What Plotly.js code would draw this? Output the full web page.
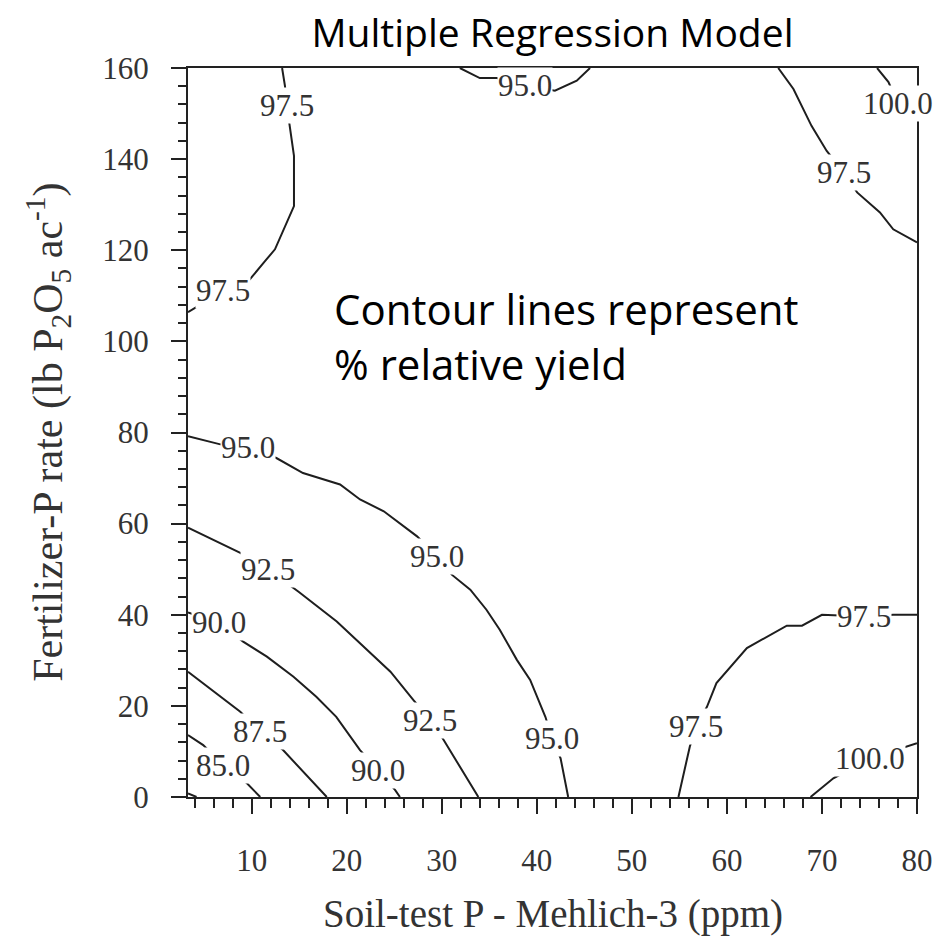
<!DOCTYPE html>
<html>
<head>
<meta charset="utf-8">
<script src="https://cdn.plot.ly/plotly-3.0.1.min.js"></script>
<style>html,body{margin:0;padding:0;background:#fff;}#chart{width:943px;height:941px;}</style>
</head>
<body>
<div id="chart"></div>
<script>
// Contour lines (x = soil-test P ppm, y = fertilizer-P rate)
const c825_x = [3.3, 4.2];
const c825_y = [0.8, 0];

const c850_x = [3.3, 4.9, 7.0, 9.5, 10.9];
const c850_y = [13.6, 11.4, 7.0, 3.0, 0];

const c875_x = [3.3, 8.8, 10.9, 13.3, 17.9];
const c875_y = [27.5, 18.7, 14.4, 10.3, 0];

const c900_x = [3.3, 6.6, 9.1, 11.6, 14.4, 16.8, 18.9, 21.4, 23.3, 25.1, 25.6];
const c900_y = [40.5, 38.2, 34.1, 30.8, 26.4, 22.0, 17.6, 10.3, 5.9, 1.5, 0];

const c925_x = [3.3, 8.8, 11.75, 14.9, 18.95, 22.1, 24.6, 27.0, 28.8, 30.2, 33.85];
const c925_y = [59.1, 53.6, 49.9, 45.1, 38.5, 32.3, 27.5, 21.3, 16.9, 12.5, 0];

const c950_x = [3.3, 6.7, 9.6, 12.6, 15.4, 17.5, 19.3, 21.4, 23.9, 27.4, 29.5, 31.05, 33.0, 34.7, 36.1, 37.9, 39.3, 40.9, 41.6, 42.5, 43.3];
const c950_y = [79.2, 77.4, 76.6, 74.4, 71.1, 69.7, 68.6, 65.3, 62.7, 57.2, 52.8, 48.8, 45.5, 41.1, 36.7, 30.1, 25.7, 17.6, 12.9, 8.5, 0];

const c950top_x = [31.9, 34.0, 35.8, 38.8, 41.9, 44.2, 45.6];
const c950top_y = [160, 157.8, 157.8, 156.2, 155.0, 157.2, 160];

const c975tl_x = [13.2, 13.5, 13.7, 14.0, 14.45, 14.45, 13.5, 12.45, 11.4, 9.8, 7.0, 3.3];
const c975tl_y = [160, 156.1, 151.7, 147.3, 140.7, 129.7, 125.3, 120.2, 117.6, 113.6, 111.1, 106.4];

const c975tr_x = [65.4, 67.0, 68.9, 70.5, 72.3, 73.7, 76.1, 77.5, 80];
const c975tr_y = [160, 155.4, 147.3, 141.8, 137.1, 132.7, 128.3, 124.6, 121.7];

const c975br_x = [54.9, 56.1, 56.8, 57.9, 58.9, 62.1, 66.3, 67.9, 70.0, 74.4, 77.5, 80];
const c975br_y = [0, 11.1, 15.5, 19.8, 25.0, 32.7, 37.6, 37.6, 40.0, 39.6, 40.0, 40.0];

const c1000tr_x = [75.8, 77.0, 78.0, 80];
const c1000tr_y = [160, 156.9, 152.1, 149];

const c1000br_x = [68.8, 71.2, 75.1, 79.1, 80];
const c1000br_y = [0, 4.1, 8.5, 11.1, 11.8];

// Contour labels
const labelText = ["97.5", "97.5", "95.0", "97.5", "100.0", "95.0", "95.0", "92.5", "90.0", "92.5", "87.5", "85.0", "90.0", "95.0", "97.5", "97.5", "100.0"];
const labelX = [13.7, 7.0, 38.8, 72.3, 78.0, 9.6, 29.5, 11.75, 6.6, 28.8, 10.9, 7.0, 23.3, 41.6, 56.8, 74.4, 75.1];
const labelY = [151.7, 111.1, 156.2, 137.1, 152.1, 76.6, 52.8, 49.9, 38.2, 16.9, 14.4, 7.0, 5.9, 12.9, 15.5, 39.6, 8.5];

const xTicks = [10, 20, 30, 40, 50, 60, 70, 80];
const yTicks = [0, 20, 40, 60, 80, 100, 120, 140, 160];

const lines = [
  [c825_x, c825_y], [c850_x, c850_y], [c875_x, c875_y], [c900_x, c900_y],
  [c925_x, c925_y], [c950_x, c950_y], [c950top_x, c950top_y], [c975tl_x, c975tl_y],
  [c975tr_x, c975tr_y], [c975br_x, c975br_y], [c1000tr_x, c1000tr_y], [c1000br_x, c1000br_y]
];

const traces = lines.map(([x, y]) => ({
  type: 'scatter', mode: 'lines', x: x, y: y,
  line: {color: '#1e1e1e', width: 2},
  hoverinfo: 'skip', showlegend: false, cliponaxis: true
}));

const serif = 'Liberation Serif, Times New Roman, serif';

const annotations = labelText.map((t, i) => ({
  x: labelX[i], y: labelY[i], xref: 'x', yref: 'y',
  text: t, showarrow: false,
  font: {family: serif, size: 31, color: '#333'},
  bgcolor: '#ffffff', borderpad: 0
}));

annotations.push({
  xref: 'paper', yref: 'paper', x: 0.198, y: 0.712, xanchor: 'left', yanchor: 'top',
  align: 'left', showarrow: false,
  text: 'Contour lines represent<br>% relative yield',
  font: {family: 'Open Sans, sans-serif', size: 42, color: '#000'}
});

// axis titles
annotations.push({
  xref: 'paper', yref: 'paper', x: 0.5, y: -0.16, xanchor: 'center', yanchor: 'middle',
  showarrow: false, text: 'Soil-test P - Mehlich-3 (ppm)',
  font: {family: serif, size: 39, color: '#333'}
});
annotations.push({
  xref: 'paper', yref: 'paper', x: -0.193, y: 0.5, xanchor: 'center', yanchor: 'middle',
  textangle: -90, showarrow: false,
  text: 'Fertilizer-P rate (lb P<sub>2</sub>O<sub>5</sub> ac<sup>-1</sup>)',
  font: {family: serif, size: 42, color: '#333'}
});

const layout = {
  width: 943, height: 941,
  margin: {l: 188, r: 26, t: 68, b: 144},
  paper_bgcolor: '#fff', plot_bgcolor: '#fff',
  title: {
    text: 'Multiple Regression Model',
    font: {family: 'Open Sans, sans-serif', size: 39, color: '#000'},
    x: 0.5, xref: 'paper', xanchor: 'center', y: 0.965, yref: 'container', yanchor: 'middle'
  },
  xaxis: {
    range: [3.3, 80], tickvals: xTicks, ticktext: xTicks.map(String),
    ticks: 'outside', ticklen: 15, tickwidth: 2, tickcolor: '#222',
    minor: {dtick: 2, tick0: 0, ticks: 'outside', ticklen: 9, tickwidth: 2, tickcolor: '#222'},
    showline: true, linecolor: '#222', linewidth: 2, mirror: true,
    showgrid: false, zeroline: false,
    tickfont: {family: serif, size: 31, color: '#333'},
    ticklabelstandoff: 20
  },
  yaxis: {
    range: [0, 160], tickvals: yTicks, ticktext: yTicks.map(String),
    ticks: 'outside', ticklen: 15, tickwidth: 2, tickcolor: '#222',
    minor: {dtick: 4, tick0: 0, ticks: 'outside', ticklen: 8, tickwidth: 2, tickcolor: '#222'},
    showline: true, linecolor: '#222', linewidth: 2, mirror: true,
    showgrid: false, zeroline: false,
    tickfont: {family: serif, size: 31, color: '#333'},
    ticklabelstandoff: 16
  },
  annotations: annotations
};

Plotly.newPlot('chart', traces, layout, {displayModeBar: false, staticPlot: true});
</script>
</body>
</html>
